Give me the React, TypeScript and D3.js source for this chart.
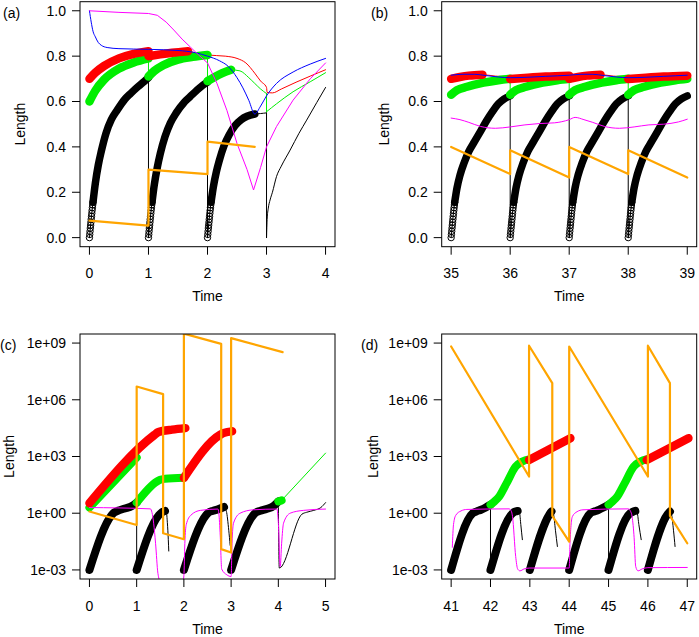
import React from 'react';
import * as d3 from 'd3';

type P = [number, number];

// ---------------- Panel (a): linear, Time 0..4 ----------------
const ringOffsets: P[] = [[0,0],[0.005,0.014],[0.01,0.028],[0.015,0.042],[0.02,0.055],[0.025,0.068],[0.03,0.081],[0.035,0.094],[0.04,0.107],[0.045,0.12],[0.05,0.132],[0.055,0.144],[0.06,0.156]];
const aRingStarts = [0, 1, 2];
const aBlack1: P[] = [[0.06,0.156],[0.1,0.24],[0.15,0.32],[0.2,0.38],[0.28,0.46],[0.37,0.52],[0.47,0.562],[0.6,0.61],[0.7,0.636],[0.82,0.665],[0.92,0.687],[1,0.705]];
const aBlack2: P[] = [[1.06,0.156],[1.1,0.235],[1.15,0.31],[1.2,0.37],[1.28,0.445],[1.37,0.505],[1.47,0.55],[1.6,0.595],[1.7,0.62],[1.82,0.65],[1.92,0.672],[2,0.685]];
const aBlack3: P[] = [[2.06,0.156],[2.1,0.225],[2.15,0.29],[2.2,0.34],[2.28,0.405],[2.37,0.455],[2.47,0.495],[2.57,0.52],[2.67,0.535],[2.8,0.545]];
const aBlackTail: P[] = [[2.8,0.545],[2.9,0.547],[3,0.55],[3,0],[3.01,0.08],[3.03,0.13],[3.06,0.166],[3.1,0.2],[3.17,0.27],[3.25,0.315],[3.4,0.386],[3.55,0.46],[3.68,0.518],[3.85,0.595],[4,0.662]];
const aRed1: P[] = [[0,0.70],[0.1,0.727],[0.25,0.757],[0.5,0.79],[0.75,0.81],[1,0.822]];
const aRed2: P[] = [[1,0.80],[1.2,0.808],[1.4,0.815],[1.67,0.822]];
const aRedTail: P[] = [[1.67,0.822],[1.85,0.812],[2,0.805],[2.3,0.8],[2.5,0.79],[2.65,0.77],[2.8,0.725],[2.9,0.69],[3,0.662],[3.01,0.64],[3.1,0.638],[3.25,0.655],[3.5,0.685],[3.75,0.713],[4,0.74]];
const aGreen1: P[] = [[0,0.60],[0.1,0.648],[0.25,0.697],[0.5,0.745],[0.75,0.772],[1,0.79]];
const aGreen2: P[] = [[1,0.71],[1.1,0.735],[1.25,0.76],[1.5,0.785],[1.75,0.797],[2,0.805]];
const aGreen3: P[] = [[2,0.69],[2.1,0.705],[2.25,0.725],[2.4,0.74]];
const aGreenTail: P[] = [[2.4,0.74],[2.55,0.735],[2.7,0.705],[2.8,0.68],[2.9,0.655],[3,0.635],[3,0.555],[3.17,0.59],[3.45,0.643],[3.74,0.687],[4,0.727]];
const aBlue: P[] = [[0,1.0],[0.03,0.95],[0.06,0.91],[0.1,0.885],[0.15,0.86],[0.2,0.848],[0.3,0.838],[0.5,0.833],[1,0.83],[1.5,0.825],[1.8,0.815],[2,0.80],[2.2,0.78],[2.35,0.755],[2.5,0.705],[2.6,0.66],[2.7,0.605],[2.8,0.545],[2.9,0.58],[3,0.625],[3.17,0.68],[3.45,0.73],[3.74,0.765],[4,0.79]];
const aMagenta: P[] = [[0,1.0],[0.5,0.993],[1,0.988],[1.15,0.98],[1.3,0.95],[1.43,0.915],[1.57,0.875],[1.71,0.84],[1.85,0.805],[2,0.77],[2.16,0.68],[2.33,0.56],[2.5,0.415],[2.67,0.3],[2.78,0.21],[2.9,0.31],[3,0.4],[3.17,0.49],[3.45,0.606],[3.74,0.7],[4,0.77]];
const aOrange: P[] = [[0,0.075],[1,0.053],[1,0.30],[2,0.28],[2,0.423],[2.8,0.40]];

// ---------------- Panel (b): linear, Time 35..39 ----------------
const bSegStarts = [35, 36, 37, 38];
const bBlackShape: P[] = [[0.06,0.156],[0.1,0.22],[0.15,0.275],[0.22,0.33],[0.3,0.38],[0.4,0.425],[0.5,0.47],[0.6,0.515],[0.7,0.555],[0.8,0.59],[0.9,0.612],[1,0.625]];
const bGreenShape: P[] = [[0,0.63],[0.1,0.65],[0.27,0.665],[0.55,0.683],[0.8,0.694],[1,0.70]];
const bRed1: P[] = [[35,0.70],[35.15,0.708],[35.3,0.714],[35.53,0.718]];
const bRed2: P[] = [[36,0.699],[36.3,0.705],[36.6,0.71],[37,0.714]];
const bRed3: P[] = [[37,0.70],[37.15,0.708],[37.3,0.714],[37.53,0.718]];
const bRed4: P[] = [[38,0.699],[38.3,0.705],[38.6,0.71],[39,0.714]];
const bRedGap1: P[] = [[35.75,0.712],[35.97,0.707]];
const bRedGap2: P[] = [[37.75,0.712],[37.97,0.707]];
const bBlue: P[] = [[35,0.716],[35.2,0.72],[35.4,0.72],[35.6,0.714],[35.8,0.708],[36,0.705],[36.3,0.707],[36.6,0.711],[37,0.716],[37.2,0.72],[37.4,0.72],[37.6,0.714],[37.8,0.708],[38,0.705],[38.3,0.707],[38.6,0.711],[39,0.716]];
const bMagenta: P[] = [[35,0.527],[35.15,0.52],[35.3,0.508],[35.5,0.49],[35.75,0.482],[36,0.488],[36.25,0.497],[36.5,0.503],[36.75,0.506],[37,0.52],[37.1,0.53],[37.25,0.52],[37.4,0.508],[37.6,0.49],[37.85,0.482],[38.1,0.488],[38.35,0.497],[38.6,0.5],[38.85,0.51],[39,0.522]];
const bOrange: P[] = [[35,0.40],[36,0.28],[36,0.385],[37,0.265],[37,0.40],[38,0.28],[38,0.385],[39,0.265]];

// ---------------- Panel (c): log10 values, Time 0..5 ----------------
const cBlack1: P[] = [[0,-3],[0.47,-0.1],[0.52,0.03],[0.6,0.13],[0.75,0.25],[0.9,0.38],[1,0.56]];
const cBlack2: P[] = [[1,-3],[1.47,-0.1],[1.52,0.02],[1.56,0.08],[1.6,0.12]];
const cBlack2Drop: P[] = [[1.6,0.12],[1.63,0.05],[1.65,-0.5],[1.67,-1.4],[1.68,-2.0]];
const cBlack3: P[] = [[2,-3],[2.47,-0.1],[2.52,0.03],[2.62,0.13],[2.75,0.23],[2.85,0.33]];
const cBlack3Drop: P[] = [[2.85,0.33],[2.9,0.1],[2.95,-0.9],[2.98,-1.7]];
const cBlack4: P[] = [[3,-3],[3.47,-0.1],[3.52,0.03],[3.62,0.13],[3.75,0.22],[3.9,0.38],[4,0.62]];
const cBlackTail: P[] = [[4,0.62],[4.02,-2.9],[4.5,-0.05],[4.6,0.05],[4.75,0.15],[4.9,0.3],[5,0.56]];
const cRed1: P[] = [[0,0.53],[1.38,4.15],[1.45,4.28],[1.55,4.35],[1.75,4.42],[2.03,4.5]];
const cRed2: P[] = [[2,1.87],[2.77,4.15],[2.85,4.25],[3.02,4.33]];
const cGreen1: P[] = [[0,0.3],[1,2.95]];
const cGreen2: P[] = [[1,0.56],[1.43,1.68],[1.5,1.77],[1.6,1.82],[2,1.88]];
const cGreenDot: P[] = [[4,0.62],[4.07,0.68]];
const cGreenTail: P[] = [[4.07,0.68],[5,3.18]];
const cOrange: P[] = [[0,0.09],[1,-0.62],[1,6.7],[1.56,6.3],[1.56,-1.06],[2,-1.38],[2,9.5],[2.79,8.96],[2.79,-1.9],[3,-2.08],[3,9.26],[4.09,8.52]];
const cMagenta: P[] = [[0,0.3],[0.6,0.28],[1.29,0.23],[1.36,-0.53],[1.4,-1.59],[1.45,-3.18],[1.5,-3.6],[1.98,-3.6],[2.0,-3.3],[2.02,-1.6],[2.05,-0.6],[2.15,-0.1],[2.35,0.15],[2.72,0.22],[2.74,0.0],[2.77,-1.2],[2.8,-2.95],[2.91,-3.26],[3.0,-3.35],[3.02,-1.59],[3.05,-0.53],[3.19,0.0],[3.47,0.18],[3.97,0.22],[4.0,-0.5],[4.04,-2.82],[4.07,-1.59],[4.11,-0.53],[4.25,0.0],[4.53,0.15],[5,0.22]];

// ---------------- Panel (d): log10 values, Time 41..47 ----------------
const dBlack1: P[] = [[41,-3],[41.55,0],[41.65,0.1],[41.76,0.18],[41.88,0.3],[42,0.45]];
const dBlack2: P[] = [[42,-3],[42.56,0],[42.62,0.08],[42.69,0.12]];
const dBlack2Drop: P[] = [[42.69,0.12],[42.74,0.0],[42.77,-0.6],[42.81,-1.4]];
const dBlack3: P[] = [[43,-3],[43.5,-0.05],[43.55,0.09]];
const dBlack3Drop: P[] = [[43.55,0.09],[43.6,-0.05],[43.65,-0.9],[43.7,-1.76]];
const dBlack4: P[] = [[44,-3],[44.54,0],[44.65,0.1],[44.75,0.18],[44.87,0.3],[45,0.45]];
const dBlack5: P[] = [[45,-3],[45.55,0],[45.62,0.08],[45.68,0.12]];
const dBlack5Drop: P[] = [[45.68,0.12],[45.73,0.0],[45.77,-0.6],[45.83,-1.4]];
const dBlack6: P[] = [[46,-3],[46.5,-0.05],[46.56,0.09]];
const dBlack6Drop: P[] = [[46.56,0.09],[46.6,-0.05],[46.65,-0.9],[46.69,-1.76]];
const dGreen1: P[] = [[42,0.45],[42.1,0.62],[42.22,0.88],[42.4,1.55],[42.64,2.47],[42.81,2.74],[43,2.86]];
const dGreen2: P[] = [[45,0.45],[45.1,0.62],[45.22,0.88],[45.4,1.55],[45.64,2.47],[45.81,2.74],[45.98,2.86]];
const dRed1: P[] = [[42.98,2.82],[44.03,3.97]];
const dRed2: P[] = [[45.97,2.82],[47.03,3.97]];
const dOrange: P[] = [[41,8.82],[42.98,1.94],[42.98,8.86],[43.57,6.88],[43.57,-0.14],[44,-1.5],[44,8.82],[46,1.94],[46,8.86],[46.56,6.88],[46.56,-0.14],[47,-1.59]];
const dMagenta: P[] = [[41.03,-1.8],[41.06,-0.6],[41.12,-0.1],[41.25,0.12],[41.4,0.2],[42.47,0.23],[42.53,0.1],[42.56,-0.18],[42.64,-2.29],[42.69,-2.95],[42.75,-3.05],[42.85,-2.95],[43,-2.9],[44,-2.9],[44.02,-1.59],[44.08,-0.18],[44.2,0.08],[44.35,0.18],[45.5,0.23],[45.56,0.1],[45.6,-0.2],[45.65,-1.3],[45.69,-2.82],[45.75,-3.05],[45.85,-2.95],[46,-2.88],[47,-2.87]];

// ---------------- axis tick labels ----------------
const linTicks = [0, 0.2, 0.4, 0.6, 0.8, 1.0];
const linTickLabels = ['0.0', '0.2', '0.4', '0.6', '0.8', '1.0'];
const logTicks = [-3, 0, 3, 6, 9];
const logTickLabels = ['1e-03', '1e+00', '1e+03', '1e+06', '1e+09'];
const aXTicks = [0, 1, 2, 3, 4];
const bXTicks = [35, 36, 37, 38, 39];
const cXTicks = [0, 1, 2, 3, 4, 5];
const dXTicks = [41, 42, 43, 44, 45, 46, 47];

const COL = { black: '#000000', red: '#FF0000', green: '#00EE00', blue: '#0000FF', magenta: '#FF00FF', orange: '#FFA500' };
const BOX_W = 255;
const BOX_H = 245;
const FONT = 'Liberation Sans, Arial, Helvetica, sans-serif';
const FS = 14;

interface Series { lines: P[][]; color: string; width: number; smooth?: boolean }
interface PanelCfg {
  id: string; x0: number; y0: number; xDomain: [number, number]; xTicks: number[]; log: boolean;
  label: string; labelX: number; lenDX: number; series: Series[]; ringStarts?: number[];
}

function buildPath(pts: P[], fx: (v: number) => number, fy: (v: number) => number, smooth: boolean): string {
  const lin = d3.line<P>().x(d => fx(d[0])).y(d => fy(d[1]));
  if (!smooth) return lin(pts) || '';
  const sm = d3.line<P>().x(d => fx(d[0])).y(d => fy(d[1])).curve(d3.curveMonotoneX);
  let out = '';
  let run: P[] = [pts[0]];
  for (let i = 1; i < pts.length; i++) {
    const p = pts[i], q = pts[i - 1];
    if (p[0] > q[0]) run.push(p);
    else {
      if (run.length > 1) out += sm(run) || '';
      out += lin([q, p]) || '';
      run = [p];
    }
  }
  if (run.length > 1) out += sm(run) || '';
  return out;
}

function Panel({ cfg }: { cfg: PanelCfg }) {
  const { x0, y0, xDomain, xTicks, log } = cfg;
  const xr = xDomain[1] - xDomain[0];
  const sx = d3.scaleLinear().domain([xDomain[0] - 0.04 * xr, xDomain[1] + 0.04 * xr]).range([x0, x0 + BOX_W]);
  let fy: (v: number) => number;
  if (log) {
    const lo = -3, hi = 9, r = hi - lo;
    const sl = d3.scaleLog().domain([Math.pow(10, lo - 0.04 * r), Math.pow(10, hi + 0.04 * r)]).range([y0 + BOX_H, y0]);
    fy = (v: number) => sl(Math.pow(10, v));
  } else {
    const sl = d3.scaleLinear().domain([-0.04, 1.04]).range([y0 + BOX_H, y0]);
    fy = (v: number) => sl(v);
  }
  const yTicks = log ? logTicks : linTicks;
  const yLabels = log ? logTickLabels : linTickLabels;
  const bottom = y0 + BOX_H;
  const clipId = 'clip-' + cfg.id;
  const renderSeries = (s: Series, i: number) => (
    <g key={i}>
      {s.lines.map((ln, j) => (
        <path key={j} d={buildPath(ln, sx, fy, s.smooth !== false)} fill="none" stroke={s.color}
          strokeWidth={s.width} strokeLinecap="round" strokeLinejoin="round" />
      ))}
    </g>
  );
  return (
    <g>
      <defs>
        <clipPath id={clipId}><rect x={x0} y={y0} width={BOX_W} height={BOX_H} /></clipPath>
      </defs>
      <g clipPath={`url(#${clipId})`}>
        {cfg.series.slice(0, 3).map(renderSeries)}
        {(cfg.ringStarts || []).map((st, i) => (
          <g key={'r' + i}>
            {ringOffsets.map((o, j) => (
              <circle key={j} cx={sx(st + o[0])} cy={fy(o[1])} r={3.2} fill="none" stroke="#000" strokeWidth={1} />
            ))}
          </g>
        ))}
        {cfg.series.slice(3).map((s, i) => renderSeries(s, i + 3))}
      </g>
      <rect x={x0} y={y0} width={BOX_W} height={BOX_H} fill="none" stroke="#000" strokeWidth={1} />
      {yTicks.map((t, i) => (
        <g key={'y' + i}>
          <line x1={x0 - 8} x2={x0} y1={fy(t)} y2={fy(t)} stroke="#000" strokeWidth={1} />
          <text x={x0 - 14} y={fy(t)} dy="0.35em" textAnchor="end" fontSize={FS} fontFamily={FONT}>{yLabels[i]}</text>
        </g>
      ))}
      {xTicks.map((t, i) => (
        <g key={'x' + i}>
          <line x1={sx(t)} x2={sx(t)} y1={bottom} y2={bottom + 8} stroke="#000" strokeWidth={1} />
          <text x={sx(t)} y={bottom + 31.5} textAnchor="middle" fontSize={FS} fontFamily={FONT}>{String(t)}</text>
        </g>
      ))}
      <text x={x0 + BOX_W / 2} y={bottom + 54.5} textAnchor="middle" fontSize={FS} fontFamily={FONT}>Time</text>
      <text transform={`translate(${x0 + cfg.lenDX},${y0 + BOX_H / 2}) rotate(-90)`} dy="0.35em" textAnchor="middle" fontSize={FS} fontFamily={FONT}>Length</text>
      <text x={cfg.labelX} y={y0 + 16} fontSize={FS} fontFamily={FONT}>{cfg.label}</text>
    </g>
  );
}

export default function App() {
  const cat = (...arrs: P[][]): P[] => ([] as P[]).concat(...arrs);

  // Panel (a)
  const aThinBlack = cat([[0, 0]], aBlack1, [[1, 0]], aBlack2, [[2, 0]], aBlack3, aBlackTail);
  const aSeries: Series[] = [
    { lines: [aThinBlack], color: COL.black, width: 1 },
    { lines: [cat(aGreen1, aGreen2, aGreen3, aGreenTail)], color: COL.green, width: 1 },
    { lines: [cat(aRed1, aRed2, aRedTail)], color: COL.red, width: 1 },
    { lines: [aBlack1, aBlack2, aBlack3], color: COL.black, width: 7.5 },
    { lines: [aGreen1, aGreen2, aGreen3], color: COL.green, width: 8.5 },
    { lines: [aRed1, aRed2], color: COL.red, width: 8.5 },
    { lines: [aBlue], color: COL.blue, width: 1 },
    { lines: [aMagenta], color: COL.magenta, width: 1, smooth: false },
    { lines: [aOrange], color: COL.orange, width: 2.2, smooth: false },
  ];

  // Panel (b)
  const bBlackSegs = bSegStarts.map(k => bBlackShape.map(p => [k + p[0], p[1]] as P));
  const bGreenSegs = bSegStarts.map(k => bGreenShape.map(p => [k + p[0], p[1]] as P));
  const bThinBlack = cat(...bSegStarts.map((k, i) => cat([[k, 0]], bBlackSegs[i])));
  const bSeries: Series[] = [
    { lines: [bThinBlack], color: COL.black, width: 1 },
    { lines: [cat(...bGreenSegs)], color: COL.green, width: 1 },
    { lines: [cat(bRed1, bRedGap1, bRed2, bRed3, bRedGap2, bRed4)], color: COL.red, width: 1 },
    { lines: bBlackSegs, color: COL.black, width: 7.5 },
    { lines: bGreenSegs, color: COL.green, width: 8.5 },
    { lines: [bRed1, bRed2, bRed3, bRed4], color: COL.red, width: 8.5 },
    { lines: [bBlue], color: COL.blue, width: 1 },
    { lines: [bMagenta], color: COL.magenta, width: 1 },
    { lines: [bOrange], color: COL.orange, width: 2.2, smooth: false },
  ];

  // Panel (c)
  const cSeries: Series[] = [
    { lines: [cat(cBlack1, cBlack2, cBlack2Drop), cat(cBlack3, cBlack3Drop), cat(cBlack4, cBlackTail)], color: COL.black, width: 1 },
    { lines: [cat(cGreen1, cGreen2), cat(cGreenDot, cGreenTail)], color: COL.green, width: 1 },
    { lines: [], color: COL.red, width: 1 },
    { lines: [cBlack1, cBlack2, cBlack3, cBlack4], color: COL.black, width: 8 },
    { lines: [cGreen1, cGreen2, cGreenDot], color: COL.green, width: 8 },
    { lines: [cRed1, cRed2], color: COL.red, width: 8.5 },
    { lines: [], color: COL.blue, width: 1 },
    { lines: [cMagenta], color: COL.magenta, width: 1 },
    { lines: [cOrange], color: COL.orange, width: 2.2, smooth: false },
  ];

  // Panel (d)
  const dSeries: Series[] = [
    { lines: [cat(dBlack1, dBlack2, dBlack2Drop), cat(dBlack3, dBlack3Drop), cat(dBlack4, dBlack5, dBlack5Drop), cat(dBlack6, dBlack6Drop)], color: COL.black, width: 1 },
    { lines: [], color: COL.green, width: 1 },
    { lines: [], color: COL.red, width: 1 },
    { lines: [dBlack1, dBlack2, dBlack3, dBlack4, dBlack5, dBlack6], color: COL.black, width: 8 },
    { lines: [dGreen1, dGreen2], color: COL.green, width: 8 },
    { lines: [dRed1, dRed2], color: COL.red, width: 8.5 },
    { lines: [], color: COL.blue, width: 1 },
    { lines: [dMagenta], color: COL.magenta, width: 1 },
    { lines: [dOrange], color: COL.orange, width: 2.2, smooth: false },
  ];

  const panels: PanelCfg[] = [
    { id: 'a', x0: 80, y0: 1.7, xDomain: [0, 4], xTicks: aXTicks, log: false, label: '(a)', labelX: 3, lenDX: -60, series: aSeries, ringStarts: aRingStarts },
    { id: 'b', x0: 441.7, y0: 1.7, xDomain: [35, 39], xTicks: bXTicks, log: false, label: '(b)', labelX: 371, lenDX: -58, series: bSeries, ringStarts: bSegStarts },
    { id: 'c', x0: 80, y0: 334, xDomain: [0, 5], xTicks: cXTicks, log: true, label: '(c)', labelX: 0, lenDX: -71, series: cSeries },
    { id: 'd', x0: 441.7, y0: 334, xDomain: [41, 47], xTicks: dXTicks, log: true, label: '(d)', labelX: 361, lenDX: -69, series: dSeries },
  ];

  return (
    <svg width={699} height={637} style={{ position: 'absolute', left: 0, top: 0, background: '#fff' }}>
      <rect x={0} y={0} width={699} height={637} fill="#fff" />
      {panels.map(p => <Panel key={p.id} cfg={p} />)}
    </svg>
  );
}
